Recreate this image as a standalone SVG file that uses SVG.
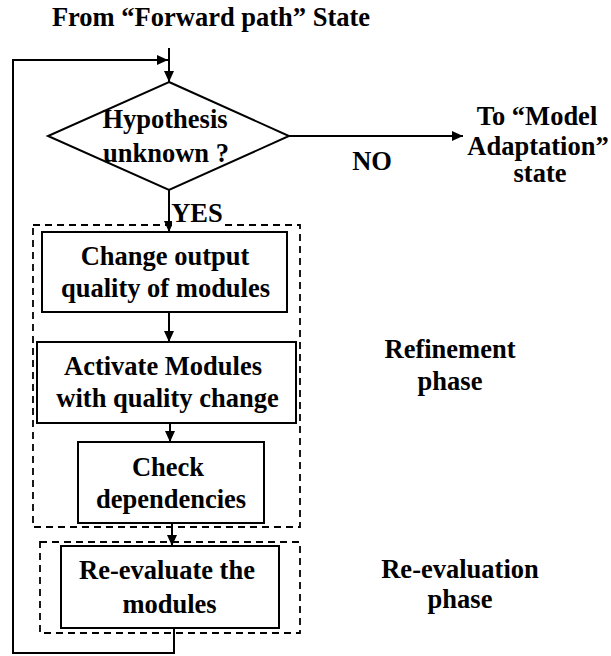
<svg xmlns="http://www.w3.org/2000/svg" width="611" height="656" viewBox="0 0 611 656">
  <style>
    text { font-family: "Liberation Serif", "Times New Roman", serif; font-weight: bold; font-size: 26.5px; fill: #000; text-anchor: middle; }
    .box { fill: #fff; stroke: #000; stroke-width: 2; }
    .phase { fill: none; stroke: #000; stroke-width: 1.8; stroke-dasharray: 7 5; }
    .wire { fill: none; stroke: #000; stroke-width: 2; }
  </style>
  <defs>
    <marker id="arrow" markerUnits="userSpaceOnUse" markerWidth="12" markerHeight="12" viewBox="0 0 12 12" refX="11" refY="6" orient="auto">
      <path d="M0,1 L11,6 L0,11 Z" fill="#000"/>
    </marker>
  </defs>
  <rect width="611" height="656" fill="#fff"/>

  <!-- phase groupings (dashed) -->
  <g id="refinement-phase">
    <rect class="phase" x="33" y="225" width="267" height="302"/>
    <text x="450" y="358">Refinement</text>
    <text x="450" y="390">phase</text>
  </g>
  <g id="reevaluation-phase">
    <rect class="phase" x="40" y="542" width="260" height="91"/>
    <text x="460" y="578">Re-evaluation</text>
    <text x="460" y="608">phase</text>
  </g>

  <g id="title">
    <text x="211" y="26">From “Forward path” State</text>
  </g>

  <!-- connectors -->
  <g id="connectors">
    <line class="wire" x1="169" y1="48" x2="169" y2="82" marker-end="url(#arrow)"/>
    <path class="wire" d="M174,628 V653 H13 V60 H168" marker-end="url(#arrow)"/>
    <line class="wire" x1="289" y1="136" x2="463" y2="136" marker-end="url(#arrow)"/>
    <line class="wire" x1="169" y1="190" x2="169" y2="232" marker-end="url(#arrow)"/>
    <line class="wire" x1="169" y1="312" x2="169" y2="342" marker-end="url(#arrow)"/>
    <line class="wire" x1="170" y1="423" x2="170" y2="442" marker-end="url(#arrow)"/>
    <line class="wire" x1="172" y1="523" x2="172" y2="546" marker-end="url(#arrow)"/>
  </g>

  <g id="decision">
    <polygon class="box" points="169,82 289,136 169,190 48,136"/>
    <text x="165" y="128">Hypothesis</text>
    <text x="166" y="162">unknown ?</text>
  </g>

  <g id="label-no">
    <text x="372" y="170">NO</text>
  </g>
  <g id="label-yes">
    <rect x="172" y="204" width="52" height="24" fill="#fff"/>
    <text x="197" y="222">YES</text>
  </g>

  <g id="model-adaptation">
    <text x="537" y="125">To “Model</text>
    <text x="538" y="155">Adaptation”</text>
    <text x="540" y="182">state</text>
  </g>

  <g id="change-quality">
    <rect class="box" x="42" y="232" width="245" height="80"/>
    <text x="165" y="265">Change output</text>
    <text x="165.5" y="297">quality of modules</text>
  </g>

  <g id="activate-modules">
    <rect class="box" x="37" y="342" width="259" height="81"/>
    <text x="163" y="375">Activate Modules</text>
    <text x="167.5" y="407">with quality change</text>
  </g>

  <g id="check-dependencies">
    <rect class="box" x="78" y="442" width="186" height="81"/>
    <text x="168" y="476">Check</text>
    <text x="171" y="508">dependencies</text>
  </g>

  <g id="reevaluate-modules">
    <rect class="box" x="61" y="546" width="218" height="82"/>
    <text x="167" y="579">Re-evaluate the</text>
    <text x="169.5" y="613">modules</text>
  </g>
</svg>
